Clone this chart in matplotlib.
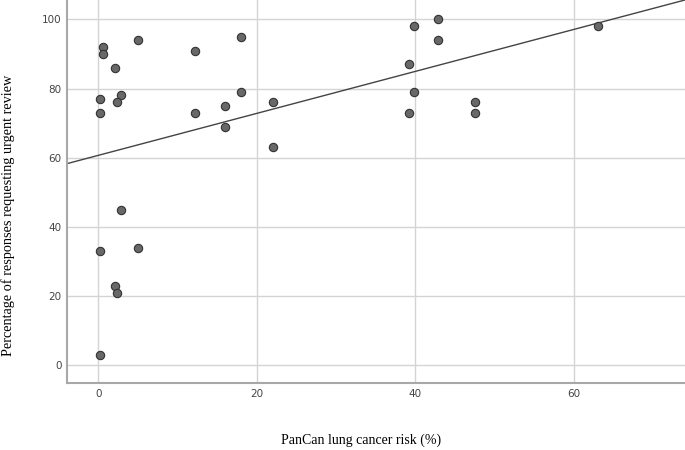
import numpy as np
import matplotlib
matplotlib.use('Agg')
import matplotlib.pyplot as plt

# PanCan lung cancer risk (%) and share of responses requesting urgent review
risk = [0.55, 0.55, 0.25, 0.25, 2.07, 2.82, 2.36, 4.97, 12.16, 12.16,
        15.94, 15.94, 18.03, 18.03, 22.03, 22.03, 39.77, 42.84, 42.84, 39.18,
        39.77, 39.18, 47.54, 47.54, 63.05, 2.82, 0.25, 4.97, 2.07, 2.36, 0.25]
urgent = [92, 90, 77, 73, 86, 78, 76, 94, 91, 73,
          75, 69, 95, 79, 76, 63, 98, 100, 94, 87,
          79, 73, 76, 73, 98, 45, 33, 34, 23, 21, 3]
xticks = [0, 20, 40, 60]
yticks = [0, 20, 40, 60, 80, 100]

fig = plt.figure(figsize=(6.85, 4.5), dpi=100)
ax = fig.add_axes([67.3 / 685, 66.7 / 450, 1 - 67.3 / 685, 1 - 66.7 / 450])

xlim = (-3.9, 74.0)
ylim = (-5.2, 105.6)

ax.grid(True, color='#d4d4d4', linewidth=1.0)
ax.set_axisbelow(True)

# linear fit line
slope, icpt = np.polyfit(risk, urgent, 1)
xs = np.array(xlim)
ax.plot(xs, icpt + slope * xs, color='#444444', linewidth=1.0, zorder=2)

ax.scatter(risk, urgent, s=36, facecolor='#686868', edgecolor='#333333',
           linewidth=0.8, zorder=3)

ax.set_xlim(*xlim)
ax.set_ylim(*ylim)
ax.set_xticks(xticks)
ax.set_yticks(yticks)
ax.tick_params(length=0, pad=4, labelsize=7.5, labelcolor='#444444')

for s in ['top', 'right']:
    ax.spines[s].set_visible(False)
for s in ['left', 'bottom']:
    ax.spines[s].set_color('#a8a8a8')
    ax.spines[s].set_linewidth(1.5)

fig.text(361 / 685, 1 - 440 / 450, 'PanCan lung cancer risk (%)',
         family='Liberation Serif', fontsize=10, ha='center', va='center')
fig.text(8 / 685, 1 - 215 / 450, 'Percentage of responses requesting urgent review',
         family='Liberation Serif', fontsize=10.3, ha='center', va='center',
         rotation=90)

fig.savefig('out.png', dpi=100)
